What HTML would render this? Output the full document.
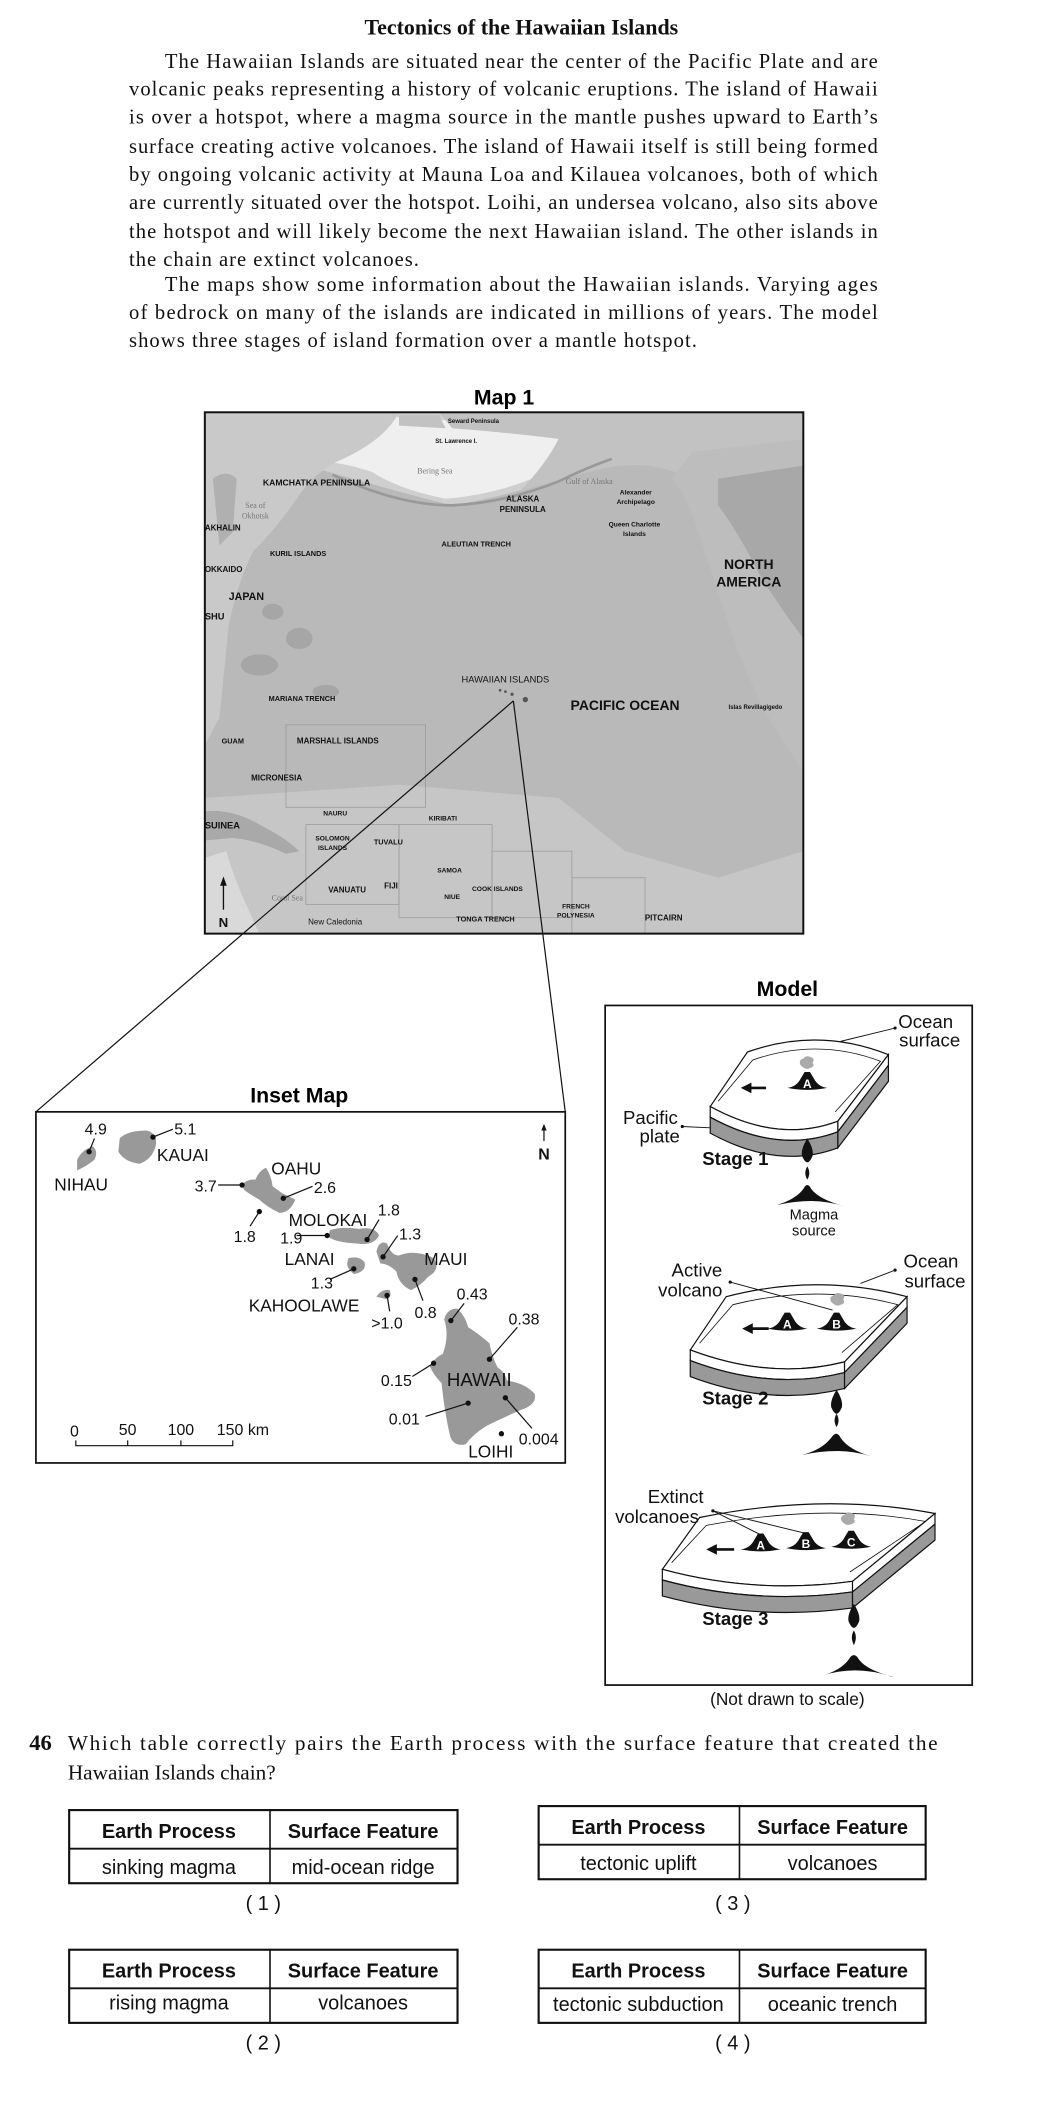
<!DOCTYPE html>
<html><head><meta charset="utf-8"><style>
html,body{margin:0;padding:0;background:#fff;}
svg{display:block;}
</style></head><body>
<svg width="1064" height="2104" viewBox="0 0 800 1582" xmlns="http://www.w3.org/2000/svg">
<rect width="800" height="1582" fill="#fff"/>
<!-- Title and paragraph -->
<g font-family="Liberation Serif, serif" fill="#111">
<text x="392" y="26" font-size="16.5" font-weight="bold" text-anchor="middle">Tectonics of the Hawaiian Islands</text>
<g font-size="15.5">
<text x="124" y="51" textLength="536" lengthAdjust="spacing">The Hawaiian Islands are situated near the center of the Pacific Plate and are</text>
<text x="97" y="72" textLength="563" lengthAdjust="spacing">volcanic peaks representing a history of volcanic eruptions. The island of Hawaii</text>
<text x="97" y="93" textLength="563" lengthAdjust="spacing">is over a hotspot, where a magma source in the mantle pushes upward to Earth’s</text>
<text x="97" y="115" textLength="563" lengthAdjust="spacing">surface creating active volcanoes. The island of Hawaii itself is still being formed</text>
<text x="97" y="136" textLength="563" lengthAdjust="spacing">by ongoing volcanic activity at Mauna Loa and Kilauea volcanoes, both of which</text>
<text x="97" y="157" textLength="563" lengthAdjust="spacing">are currently situated over the hotspot. Loihi, an undersea volcano, also sits above</text>
<text x="97" y="179" textLength="563" lengthAdjust="spacing">the hotspot and will likely become the next Hawaiian island. The other islands in</text>
<text x="97" y="200" textLength="218" lengthAdjust="spacing">the chain are extinct volcanoes.</text>
<text x="124" y="219" textLength="536" lengthAdjust="spacing">The maps show some information about the Hawaiian islands. Varying ages</text>
<text x="97" y="240" textLength="563" lengthAdjust="spacing">of bedrock on many of the islands are indicated in millions of years. The model</text>
<text x="97" y="261" textLength="427" lengthAdjust="spacing">shows three stages of island formation over a mantle hotspot.</text>
</g>
</g>

<!-- Map 1 -->
<text x="379" y="304" font-family="Liberation Sans, sans-serif" font-size="16" font-weight="bold" text-anchor="middle">Map 1</text>
<g>
<clipPath id="mc"><rect x="154" y="310" width="450" height="392"/></clipPath>
<g clip-path="url(#mc)">
<rect x="154" y="310" width="450" height="392" fill="#b9b9b9"/>
<!-- lighter areas -->
<path d="M154,600 L300,590 L420,600 L470,640 L540,660 L604,640 L604,702 L154,702 Z" fill="#c6c6c6"/>
<path d="M154,340 Q200,345 230,350 Q300,370 340,380 Q400,370 440,350 L520,330 L520,310 L154,310 Z" fill="#cfcfcf"/>
<!-- Bering sea white -->
<path d="M230,312 L290,312 Q330,320 380,312 L420,320 Q430,345 400,360 Q370,372 335,375 Q300,368 280,355 Q250,345 232,348 Z" fill="#efefef"/>
<!-- Sea of Okhotsk -->
<path d="M160,350 Q185,345 205,352 Q210,380 195,395 L175,405 L160,400 Z" fill="#e8e8e8"/>
<!-- Asia land -->
<path d="M154,310 L300,310 Q290,330 258,345 Q240,352 225,372 Q210,395 190,415 Q178,440 172,470 L165,540 L154,560 Z" fill="#c9c9c9"/>
<path d="M160,360 Q170,352 178,360 L175,400 L165,410 Z" fill="#b0b0b0"/>
<!-- Alaska -->
<path d="M330,310 L604,310 L604,400 Q560,385 520,360 Q490,345 455,352 Q420,360 390,370 Q410,350 420,330 Q380,325 340,322 Z" fill="#c2c2c2"/>
<path d="M300,312 L330,312 L335,322 L300,320 Z" fill="#c2c2c2"/>
<!-- North America -->
<path d="M520,340 L604,330 L604,580 Q590,560 575,535 Q560,505 548,470 Q535,430 525,400 Q515,370 505,360 Z" fill="#bdbdbd"/>
<path d="M540,360 L604,350 L604,480 Q585,455 570,430 Q555,400 540,380 Z" fill="#a8a8a8"/>
<!-- Aleutian arc line -->
<path d="M250,357 Q300,380 340,380 Q380,378 420,362 Q440,352 460,345" fill="none" stroke="#999" stroke-width="2"/>
<!-- western darker seamount patches -->
<ellipse cx="195" cy="500" rx="14" ry="8" fill="#a6a6a6"/>
<ellipse cx="225" cy="480" rx="10" ry="8" fill="#a6a6a6"/>
<ellipse cx="205" cy="460" rx="8" ry="6" fill="#a6a6a6"/>
<ellipse cx="245" cy="520" rx="10" ry="5" fill="#a6a6a6"/>
<!-- New Guinea / Australia -->
<path d="M154,610 Q175,608 195,620 Q215,630 225,640 L215,642 Q195,632 175,630 L154,632 Z" fill="#a9a9a9"/>
<path d="M154,645 L170,640 Q176,660 185,680 L195,702 L154,702 Z" fill="#d9d9d9"/>
<!-- EEZ-ish boxes -->
<g fill="none" stroke="#9c9c9c" stroke-width="0.6">
<rect x="215" y="545" width="105" height="62"/>
<rect x="230" y="620" width="70" height="60"/>
<rect x="300" y="620" width="70" height="70"/>
<rect x="370" y="640" width="60" height="50"/>
<rect x="430" y="660" width="55" height="42"/>
</g>
<!-- Hawaiian islands dots -->
<g fill="#555"><circle cx="376" cy="519" r="1"/><circle cx="380" cy="520" r="1"/><circle cx="385" cy="522" r="1.2"/><circle cx="395" cy="526" r="2"/></g>
</g>
<rect x="154" y="310" width="450" height="392" fill="none" stroke="#111" stroke-width="1.5"/>
<g font-family="Liberation Sans, sans-serif" fill="#111" font-weight="bold">
<text x="356" y="318" font-size="4.5" text-anchor="middle">Seward Peninsula</text>
<text x="343" y="333" font-size="4.5" text-anchor="middle">St. Lawrence I.</text>
<text x="327" y="356" font-size="6" text-anchor="middle" fill="#777" font-weight="normal" font-family="Liberation Serif, serif">Bering Sea</text>
<text x="238" y="365" font-size="6.5" text-anchor="middle">KAMCHATKA PENINSULA</text>
<text x="443" y="364" font-size="6" text-anchor="middle" fill="#777" font-weight="normal" font-family="Liberation Serif, serif">Gulf of Alaska</text>
<text x="192" y="382" font-size="6" text-anchor="middle" fill="#777" font-weight="normal" font-family="Liberation Serif, serif">Sea of</text>
<text x="192" y="390" font-size="6" text-anchor="middle" fill="#777" font-weight="normal" font-family="Liberation Serif, serif">Okhotsk</text>
<text x="393" y="377" font-size="6" text-anchor="middle">ALASKA</text>
<text x="393" y="385" font-size="6" text-anchor="middle">PENINSULA</text>
<text x="478" y="372" font-size="5" text-anchor="middle">Alexander</text>
<text x="478" y="379" font-size="5" text-anchor="middle">Archipelago</text>
<text x="154" y="399" font-size="6">AKHALIN</text>
<text x="477" y="396" font-size="5" text-anchor="middle">Queen Charlotte</text>
<text x="477" y="403" font-size="5" text-anchor="middle">Islands</text>
<text x="332" y="411" font-size="5.5">ALEUTIAN TRENCH</text>
<text x="203" y="418" font-size="5.5">KURIL ISLANDS</text>
<text x="154" y="430" font-size="6">OKKAIDO</text>
<text x="563" y="428" font-size="10.5" text-anchor="middle">NORTH</text>
<text x="563" y="441" font-size="10.5" text-anchor="middle">AMERICA</text>
<text x="172" y="451" font-size="8">JAPAN</text>
<text x="154" y="466" font-size="7">SHU</text>
<text x="380" y="513" font-size="7" text-anchor="middle" font-weight="normal">HAWAIIAN ISLANDS</text>
<text x="470" y="534" font-size="10.5" text-anchor="middle">PACIFIC OCEAN</text>
<text x="568" y="533" font-size="4.5" text-anchor="middle">Islas Revillagigedo</text>
<text x="202" y="527" font-size="5.5">MARIANA TRENCH</text>
<text x="175" y="559" font-size="5.5" text-anchor="middle">GUAM</text>
<text x="254" y="559" font-size="6" text-anchor="middle">MARSHALL ISLANDS</text>
<text x="208" y="587" font-size="6" text-anchor="middle">MICRONESIA</text>
<text x="252" y="613" font-size="5" text-anchor="middle">NAURU</text>
<text x="333" y="617" font-size="5" text-anchor="middle">KIRIBATI</text>
<text x="154" y="623" font-size="7">SUINEA</text>
<text x="250" y="632" font-size="5" text-anchor="middle">SOLOMON</text>
<text x="250" y="639" font-size="5" text-anchor="middle">ISLANDS</text>
<text x="292" y="635" font-size="5.5" text-anchor="middle">TUVALU</text>
<text x="338" y="656" font-size="5" text-anchor="middle">SAMOA</text>
<text x="261" y="671" font-size="6" text-anchor="middle">VANUATU</text>
<text x="294" y="668" font-size="6" text-anchor="middle">FIJI</text>
<text x="374" y="670" font-size="5" text-anchor="middle">COOK ISLANDS</text>
<text x="340" y="676" font-size="5" text-anchor="middle">NIUE</text>
<text x="216" y="677" font-size="6" text-anchor="middle" fill="#777" font-weight="normal" font-family="Liberation Serif, serif">Coral Sea</text>
<text x="433" y="683" font-size="5" text-anchor="middle">FRENCH</text>
<text x="433" y="690" font-size="5" text-anchor="middle">POLYNESIA</text>
<text x="499" y="692" font-size="6" text-anchor="middle">PITCAIRN</text>
<text x="252" y="695" font-size="6" text-anchor="middle" font-weight="normal">New Caledonia</text>
<text x="365" y="693" font-size="5.5" text-anchor="middle">TONGA TRENCH</text>
<text x="168" y="697" font-size="10" text-anchor="middle">N</text>
</g>
<line x1="168" y1="684" x2="168" y2="662" stroke="#111" stroke-width="1"/>
<path d="M165.5,666 L168,659 L170.5,666 Z" fill="#111"/>
</g>

<!-- Zoom lines -->
<line x1="386" y1="527" x2="27" y2="836" stroke="#111" stroke-width="0.9"/>
<line x1="386" y1="527" x2="425" y2="836" stroke="#111" stroke-width="0.9"/>

<!-- Inset map -->
<text x="225" y="829" font-family="Liberation Sans, sans-serif" font-size="16" font-weight="bold" text-anchor="middle">Inset Map</text>
<rect x="27" y="836" width="398" height="264" fill="#fff" stroke="#111" stroke-width="1.3"/>
<g fill="#999">
<path d="M58,872 Q62,864 70,862 Q74,866 71,872 Q66,876 62,878 L58,880 Z"/>
<path d="M90,856 Q96,850 110,850 Q119,852 117,862 Q114,872 105,875 Q94,874 89,866 Z"/>
<path d="M181,891 Q187,886 192,887 Q195,880 200,878 Q204,884 205,892 L212,897 L222,902 Q218,912 210,912 Q200,907 195,902 Q188,898 184,895 Z"/>
<path d="M248,925 Q256,922 270,924 Q282,922 285,929 Q281,937 268,935 Q252,934 247,930 Z"/>
<path d="M262,946 Q270,944 274,949 Q276,956 266,958 Q261,954 261,950 Z"/>
<path d="M283,941 Q285,932 291,935 Q294,944 300,944 Q312,939 326,946 Q332,954 322,960 Q316,967 309,970 Q300,966 298,956 Q292,950 286,950 Z"/>
<path d="M283,975 Q287,969 293,970 Q295,975 291,977 Z"/>
<path d="M334,992 Q336,984 344,984 Q350,990 352,998 Q360,1003 368,1010 Q370,1020 374,1028 Q380,1032 381,1038 Q395,1040 402,1048 Q404,1056 392,1060 Q378,1066 366,1072 Q356,1078 350,1086 Q340,1088 338,1078 Q334,1060 332,1040 Q326,1034 323,1027 Q328,1020 333,1018 Q338,1004 334,992 Z"/>
</g>
<g font-family="Liberation Sans, sans-serif" fill="#111" font-size="13">
<text x="72" y="853" text-anchor="middle" font-size="12">4.9</text>
<text x="61" y="895" text-anchor="middle">NIHAU</text>
<text x="131" y="853" font-size="12">5.1</text>
<text x="118" y="873">KAUAI</text>
<text x="204" y="883">OAHU</text>
<text x="163" y="896" text-anchor="end" font-size="12">3.7</text>
<text x="236" y="897" font-size="12">2.6</text>
<text x="184" y="934" text-anchor="middle" font-size="12">1.8</text>
<text x="217" y="922">MOLOKAI</text>
<text x="284" y="914" font-size="12">1.8</text>
<text x="219" y="935" text-anchor="middle" font-size="12">1.9</text>
<text x="214" y="951">LANAI</text>
<text x="242" y="969" text-anchor="middle" font-size="12">1.3</text>
<text x="300" y="932" font-size="12">1.3</text>
<text x="319" y="951">MAUI</text>
<text x="187" y="986">KAHOOLAWE</text>
<text x="291" y="999" text-anchor="middle" font-size="12">&gt;1.0</text>
<text x="320" y="991" text-anchor="middle" font-size="12">0.8</text>
<text x="355" y="977" text-anchor="middle" font-size="12">0.43</text>
<text x="394" y="996" text-anchor="middle" font-size="12">0.38</text>
<text x="298" y="1042" text-anchor="middle" font-size="12">0.15</text>
<text x="336" y="1042" font-size="14">HAWAII</text>
<text x="304" y="1071" text-anchor="middle" font-size="12">0.01</text>
<text x="405" y="1086" text-anchor="middle" font-size="12">0.004</text>
<text x="369" y="1096" text-anchor="middle">LOIHI</text>
<text x="409" y="872" text-anchor="middle" font-size="12" font-weight="bold">N</text>
<text x="56" y="1080" text-anchor="middle" font-size="12">0</text>
<text x="96" y="1079" text-anchor="middle" font-size="12">50</text>
<text x="136" y="1079" text-anchor="middle" font-size="12">100</text>
<text x="163" y="1079" font-size="12">150 km</text>
</g>
<g stroke="#111" stroke-width="0.9" fill="none">
<path d="M67,866 L71,856"/><path d="M115,855 L130,849"/>
<path d="M164,891 L182,891"/><path d="M213,901 L235,892"/><path d="M195,911 L188,922"/>
<path d="M223,929 L246,929"/><path d="M276,932 L285,917"/>
<path d="M266,954 L248,962"/><path d="M288,945 L299,929"/>
<path d="M291,974 L293,986"/><path d="M312,962 L318,978"/>
<path d="M339,993 L349,980"/><path d="M368,1022 L389,998"/>
<path d="M326,1025 L310,1035"/><path d="M352,1055 L320,1065"/><path d="M380,1051 L400,1074"/>
<path d="M409,858 L409,847"/>
<path d="M57,1083 L57,1087 L175,1087 L175,1083 M96,1083 L96,1087 M136,1083 L136,1087"/>
</g>
<path d="M407,850 L409,845 L411,850 Z" fill="#111"/>
<g fill="#111">
<circle cx="67" cy="866" r="2"/><circle cx="115" cy="855" r="2"/><circle cx="182" cy="891" r="2"/><circle cx="213" cy="901" r="2"/><circle cx="195" cy="911" r="2"/><circle cx="246" cy="929" r="2"/><circle cx="276" cy="932" r="2"/><circle cx="266" cy="954" r="2"/><circle cx="288" cy="945" r="2"/><circle cx="291" cy="974" r="2"/><circle cx="312" cy="962" r="2"/><circle cx="339" cy="993" r="2"/><circle cx="368" cy="1022" r="2"/><circle cx="326" cy="1025" r="2"/><circle cx="352" cy="1055" r="2"/><circle cx="380" cy="1051" r="2"/><circle cx="377" cy="1078" r="2"/>
</g>

<!-- Model -->
<text x="592" y="749" font-family="Liberation Sans, sans-serif" font-size="16" font-weight="bold" text-anchor="middle">Model</text>
<rect x="455" y="756" width="276" height="511" fill="#fff" stroke="#111" stroke-width="1.3"/>
<defs>
<path id="volc" d="M-15,4 Q-8,3 -5,-3 L-2,-8 L2,-8 L5,-3 Q8,3 15,4 Q0,7 -15,4 Z" fill="#111"/>
<path id="drop" d="M0,0 Q5,8 4,13 Q2,18 0,18 Q-2,18 -4,13 Q-5,8 0,0 Z" fill="#111"/>
<path id="plume" d="M-4,2 Q-6,-2 -2,-3 Q0,-6 4,-4 Q7,-3 5,0 Q7,3 3,4 Q0,6 -4,2 Z" fill="#aaa"/>
</defs>
<g stroke="#111" stroke-width="0.9">
<!-- Stage 1 -->
<path d="M534,832 L562,791 Q615,772 668,793 L630,843 Q585,860 534,832 Z" fill="#fff"/>
<path d="M540,828 L566,797 Q615,780 662,798 L628,836" fill="none" stroke-width="0.6"/>
<path d="M534,832 Q585,860 630,843 L630,851 Q585,868 534,840 Z" fill="#fff"/>
<path d="M534,840 Q585,868 630,851 L630,863 Q585,880 534,852 Z" fill="#999"/>
<path d="M630,843 L668,793 L668,801 L630,851 Z" fill="#fff"/>
<path d="M630,851 L668,801 L668,813 L630,863 Z" fill="#999"/>
<!-- Stage 2 -->
<path d="M519,1015 L546,975 Q615,957 682,975 L635,1024 Q580,1038 519,1015 Z" fill="#fff"/>
<path d="M526,1010 L551,981 Q615,965 675,981 L633,1017" fill="none" stroke-width="0.6"/>
<path d="M519,1015 Q580,1038 635,1024 L635,1032 Q580,1046 519,1023 Z" fill="#fff"/>
<path d="M519,1023 Q580,1046 635,1032 L635,1044 Q580,1058 519,1035 Z" fill="#999"/>
<path d="M635,1024 L682,975 L682,983 L635,1032 Z" fill="#fff"/>
<path d="M635,1032 L682,983 L682,995 L635,1044 Z" fill="#999"/>
<!-- Stage 3 -->
<path d="M498,1180 L526,1141 Q620,1122 703,1138 L641,1189 Q568,1199 498,1180 Z" fill="#fff"/>
<path d="M505,1175 L531,1147 Q620,1130 696,1144 L639,1182" fill="none" stroke-width="0.6"/>
<path d="M498,1180 Q568,1199 641,1189 L641,1197 Q568,1207 498,1188 Z" fill="#fff"/>
<path d="M498,1188 Q568,1207 641,1197 L641,1209 Q568,1219 498,1200 Z" fill="#999"/>
<path d="M641,1189 L703,1138 L703,1146 L641,1197 Z" fill="#fff"/>
<path d="M641,1197 L703,1146 L703,1158 L641,1209 Z" fill="#999"/>
</g>
<!-- plumes, volcanoes -->
<use href="#plume" x="606" y="799"/>
<use href="#volc" x="607" y="814"/>
<use href="#plume" x="629" y="977"/>
<use href="#volc" x="592" y="995"/><use href="#volc" x="629" y="995"/>
<use href="#plume" x="637" y="1142"/>
<use href="#volc" x="572" y="1161"/><use href="#volc" x="606" y="1160"/><use href="#volc" x="640" y="1159"/>
<g font-family="Liberation Sans, sans-serif" font-size="9" fill="#fff" font-weight="bold" text-anchor="middle">
<text x="607" y="818">A</text>
<text x="592" y="999">A</text><text x="629" y="999">B</text>
<text x="572" y="1165">A</text><text x="606" y="1164">B</text><text x="640" y="1163">C</text>
</g>
<!-- arrows -->
<g fill="#111" stroke="#111">
<line x1="564" y1="818" x2="576" y2="818" stroke-width="2"/><path d="M557,818 L565,814 L565,822 Z" stroke="none"/>
<line x1="565" y1="999" x2="578" y2="999" stroke-width="2"/><path d="M558,999 L566,995 L566,1003 Z" stroke="none"/>
<line x1="538" y1="1165" x2="552" y2="1165" stroke-width="2"/><path d="M531,1165 L539,1161 L539,1169 Z" stroke="none"/>
</g>
<!-- drops and magma sources -->
<use href="#drop" x="607" y="856"/>
<path d="M607,877 Q610,882 607,887 Q604,882 607,877 Z" fill="#111"/>
<path d="M584,906 Q598,902 604,894 Q607,888 610,894 Q616,902 635,907 Q622,903 610,903 Q598,903 584,906 Z" fill="#111"/>
<use href="#drop" x="629" y="1045"/>
<path d="M629,1063 Q632,1068 629,1073 Q626,1068 629,1063 Z" fill="#111"/>
<path d="M603,1094 Q618,1090 625,1081 Q629,1075 632,1081 Q638,1090 655,1095 Q642,1091 630,1091 Q616,1091 603,1094 Z" fill="#111"/>
<use href="#drop" x="642" y="1206"/>
<path d="M642,1226 Q645,1231 642,1237 Q639,1231 642,1226 Z" fill="#111"/>
<path d="M618,1260 Q632,1256 638,1248 Q642,1241 646,1248 Q652,1256 672,1261 Q656,1256 643,1256 Q630,1256 618,1260 Z" fill="#111"/>
<!-- labels -->
<g font-family="Liberation Sans, sans-serif" fill="#111">
<g font-size="14" text-anchor="middle">
<text x="696" y="773">Ocean</text><text x="699" y="787">surface</text>
<text x="489" y="845">Pacific</text><text x="496" y="859">plate</text>
<text x="524" y="960">Active</text><text x="519" y="975">volcano</text>
<text x="700" y="953">Ocean</text><text x="703" y="968">surface</text>
<text x="508" y="1130">Extinct</text><text x="494" y="1145">volcanoes</text>
</g>
<g font-size="14" font-weight="bold">
<text x="528" y="876">Stage 1</text>
<text x="528" y="1056">Stage 2</text>
<text x="528" y="1222">Stage 3</text>
</g>
<text x="612" y="917" font-size="11" text-anchor="middle">Magma</text>
<text x="612" y="929" font-size="11" text-anchor="middle">source</text>
<text x="592" y="1282" font-size="13" text-anchor="middle">(Not drawn to scale)</text>
</g>
<g stroke="#111" stroke-width="0.7" fill="none">
<path d="M673,773 L632,783"/><path d="M513,847 L534,848"/>
<path d="M549,964 L626,985"/><path d="M673,955 L647,965"/>
<path d="M536,1136 L572,1154"/><path d="M536,1136 L606,1153"/>
</g>
<g fill="#111"><circle cx="673" cy="773" r="1.2"/><circle cx="513" cy="847" r="1.2"/><circle cx="549" cy="964" r="1.2"/><circle cx="673" cy="955" r="1.2"/><circle cx="536" cy="1136" r="1.2"/></g>

<!-- Question -->
<g font-family="Liberation Serif, serif" fill="#111">
<text x="22" y="1316" font-size="17" font-weight="bold">46</text>
<text x="51" y="1316" font-size="16" textLength="654" lengthAdjust="spacing">Which table correctly pairs the Earth process with the surface feature that created the</text>
<text x="51" y="1338" font-size="16">Hawaiian Islands chain?</text>
</g>

<!-- Tables -->
<g font-family="Liberation Sans, sans-serif" fill="#111" font-size="15" text-anchor="middle">
<g transform="translate(52,1361)">
<rect x="0" y="0" width="292" height="55" fill="#fff" stroke="#111" stroke-width="1.6"/>
<line x1="0" y1="29" x2="292" y2="29" stroke="#111" stroke-width="1.4"/><line x1="151" y1="0" x2="151" y2="55" stroke="#111" stroke-width="1.2"/>
<text x="75" y="21" font-weight="bold">Earth Process</text><text x="221" y="21" font-weight="bold">Surface Feature</text>
<text x="75" y="48">sinking magma</text><text x="221" y="48">mid-ocean ridge</text>
<text x="146" y="75">( 1 )</text>
</g>
<g transform="translate(405,1358)">
<rect x="0" y="0" width="291" height="55" fill="#fff" stroke="#111" stroke-width="1.6"/>
<line x1="0" y1="29" x2="291" y2="29" stroke="#111" stroke-width="1.4"/><line x1="151" y1="0" x2="151" y2="55" stroke="#111" stroke-width="1.2"/>
<text x="75" y="21" font-weight="bold">Earth Process</text><text x="221" y="21" font-weight="bold">Surface Feature</text>
<text x="75" y="48">tectonic uplift</text><text x="221" y="48">volcanoes</text>
<text x="146" y="78">( 3 )</text>
</g>
<g transform="translate(52,1466)">
<rect x="0" y="0" width="292" height="55" fill="#fff" stroke="#111" stroke-width="1.6"/>
<line x1="0" y1="29" x2="292" y2="29" stroke="#111" stroke-width="1.4"/><line x1="151" y1="0" x2="151" y2="55" stroke="#111" stroke-width="1.2"/>
<text x="75" y="21" font-weight="bold">Earth Process</text><text x="221" y="21" font-weight="bold">Surface Feature</text>
<text x="75" y="45">rising magma</text><text x="221" y="45">volcanoes</text>
<text x="146" y="75">( 2 )</text>
</g>
<g transform="translate(405,1466)">
<rect x="0" y="0" width="291" height="55" fill="#fff" stroke="#111" stroke-width="1.6"/>
<line x1="0" y1="29" x2="291" y2="29" stroke="#111" stroke-width="1.4"/><line x1="151" y1="0" x2="151" y2="55" stroke="#111" stroke-width="1.2"/>
<text x="75" y="21" font-weight="bold">Earth Process</text><text x="221" y="21" font-weight="bold">Surface Feature</text>
<text x="75" y="46">tectonic subduction</text><text x="221" y="46">oceanic trench</text>
<text x="146" y="75">( 4 )</text>
</g>
</g>
</svg>
</body></html>
